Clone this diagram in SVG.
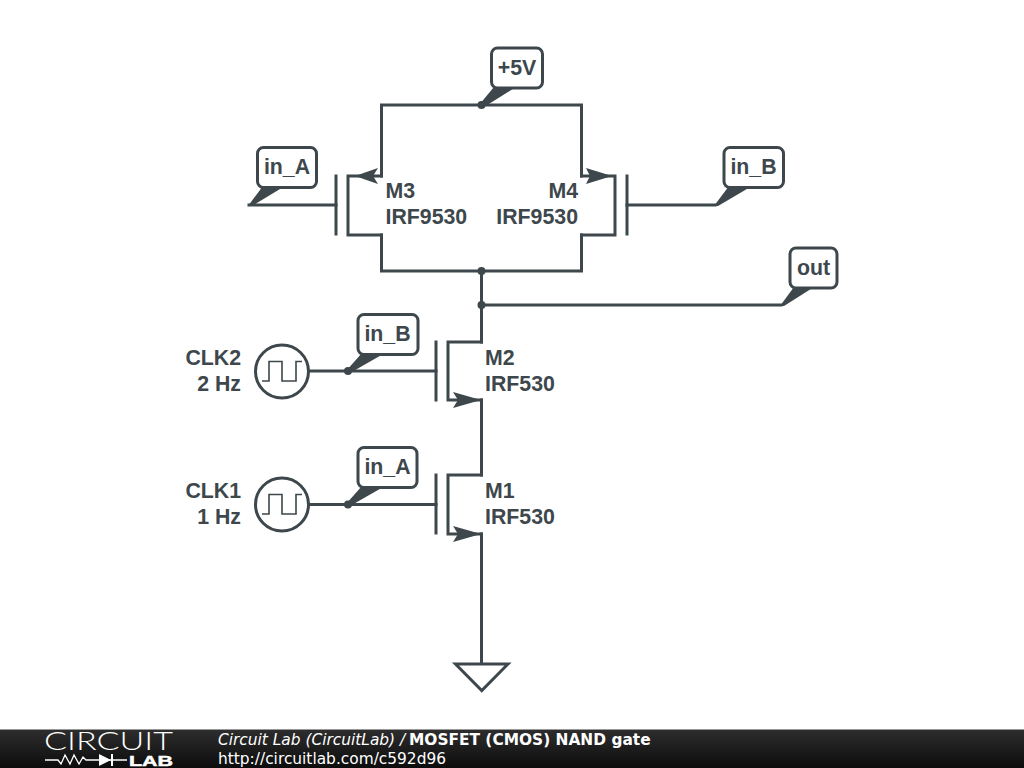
<svg xmlns="http://www.w3.org/2000/svg" width="1024" height="768" viewBox="0 0 1024 768">
<style>
.w{fill:none;stroke:#3d474c;stroke-width:3;stroke-linecap:square;stroke-linejoin:miter}
.t{fill:#3d474c;font-family:"Liberation Sans",Arial,sans-serif;font-weight:bold;font-size:21.3px}
.b{fill:#fff;stroke:#3d474c;stroke-width:3}
.f{fill:#3d474c}
.c{fill:#fff;stroke:#3d474c;stroke-width:3}
.s{fill:none;stroke:#3d474c;stroke-width:1.6}
.e{text-anchor:end}
.m{text-anchor:middle}
.ft{fill:#fff;font-family:"DejaVu Sans",sans-serif;font-size:15.400px}
</style>
<defs>
<linearGradient id="bar" x1="0" y1="0" x2="0" y2="1"><stop offset="0" stop-color="#2e2e2e"/><stop offset="1" stop-color="#0c0c0c"/></linearGradient>
</defs>
<rect width="1024" height="768" fill="#fff"/>
<g id="connectors">
<path class="w" d="M381.500 176V105H581.500V176"/>
<path class="w" d="M381.500 235V271H581.500V235"/>
<path class="w" d="M481.500 271V342"/>
<path class="w" d="M481.500 305H781"/>
<path class="w" d="M481.500 400V475"/>
<path class="w" d="M481.500 534V664"/>
<path class="w" d="M249 205H336"/>
<path class="w" d="M627 205H715"/>
<path class="w" d="M309 371H436"/>
<path class="w" d="M309 504.500H436"/>
<circle class="f" cx="481.500" cy="105" r="4"/>
<circle class="f" cx="481.500" cy="271" r="4"/>
<circle class="f" cx="481.500" cy="305" r="4"/>
<circle class="f" cx="348" cy="371" r="4"/>
<circle class="f" cx="348" cy="504.500" r="4"/>
</g>
<g id="M3">
<path class="w" d="M336 176V234"/><path class="w" d="M348 176H381.500M348 176V235H381.500"/>
<path class="f" d="M355 176L378 168L373 176L378 184Z"/>
<text class="t" x="385.500" y="198">M3</text><text class="t" x="385.500" y="224">IRF9530</text>
</g>
<g id="M4">
<path class="w" d="M627 176V234"/><path class="w" d="M615 176H581.500M615 176V235H581.500"/>
<path class="f" d="M612 176L586 168L590 176L586 184Z"/>
<text class="t e" x="578" y="198">M4</text><text class="t e" x="578" y="224">IRF9530</text>
</g>
<g id="M2">
<path class="w" d="M436 342V400"/><path class="w" d="M481.500 342H448V400H481.500"/>
<path class="f" d="M481 400L453 392L458 400L453 408Z"/>
<text class="t" x="485" y="365">M2</text><text class="t" x="485" y="391">IRF530</text>
</g>
<g id="M1">
<path class="w" d="M436 475V533"/><path class="w" d="M481.500 475H448V534H481.500"/>
<path class="f" d="M481 534L453 526L458 534L453 542Z"/>
<text class="t" x="485" y="498">M1</text><text class="t" x="485" y="524">IRF530</text>
</g>
<g id="CLK2">
<circle class="c" cx="282" cy="371.500" r="26.500"/>
<path class="s" d="M262 381H269V361.500H282V381H296V361.500H302"/>
<text class="t e" x="241" y="365">CLK2</text><text class="t e" x="241" y="391">2 Hz</text>
</g>
<g id="CLK1">
<circle class="c" cx="282" cy="504.500" r="26.500"/>
<path class="s" d="M262 514H269V494.500H282V514H296V494.500H302"/>
<text class="t e" x="241" y="498">CLK1</text><text class="t e" x="241" y="524">1 Hz</text>
</g>
<g id="GND"><path class="c" d="M455.500 664H508L481.750 690.500Z"/></g>
<g id="label-5V">
<path class="f" d="M479 105L494 87H516L484 107Z"/>
<rect class="b" x="491.500" y="48" width="51" height="40" rx="6"/>
<text class="t m" x="517" y="75">+5V</text>
</g>
<g id="label-in_A-top">
<path class="f" d="M248 206L263 186H285L252 206Z"/>
<rect class="b" x="257.500" y="147.500" width="59" height="40" rx="6"/>
<text class="t m" x="287" y="174">in_A</text>
</g>
<g id="label-in_B-top">
<path class="f" d="M714 206L729 186H752L718 206Z"/>
<rect class="b" x="724" y="147.500" width="59.500" height="40" rx="6"/>
<text class="t m" x="753.500" y="174">in_B</text>
</g>
<g id="label-out">
<path class="f" d="M780 306L794 287H814L784 306Z"/>
<rect class="b" x="790" y="248" width="47" height="40" rx="6"/>
<text class="t m" x="813.500" y="275">out</text>
</g>
<g id="label-in_B-low">
<path class="f" d="M346 371L362 353H385L350 373Z"/>
<rect class="b" x="358" y="314.500" width="60" height="40" rx="6"/>
<text class="t m" x="387.500" y="341">in_B</text>
</g>
<g id="label-in_A-low">
<path class="f" d="M346 504L362 486H385L350 506Z"/>
<rect class="b" x="358" y="447.500" width="59" height="40" rx="6"/>
<text class="t m" x="387.500" y="474">in_A</text>
</g>
<g id="footer">
<rect y="729" width="1024" height="39" fill="url(#bar)"/>
<rect y="729" width="1024" height="1" fill="#999"/>
<text x="44" y="750" fill="#fff" font-family="Lato,sans-serif" font-weight="300" font-size="24.500" textLength="129" lengthAdjust="spacingAndGlyphs">CIRCUIT</text>
<path fill="none" stroke="#fff" stroke-width="1.300" d="M45 760H58L61 764L65 755L70 764L74 755L79 764L83 757L86 760H127"/>
<path fill="#fff" d="M99 754L111 760L99 766Z"/><rect x="111" y="754" width="2" height="12" fill="#fff"/>
<text x="129" y="765.500" fill="#fff" stroke="#fff" stroke-width="0.500" font-family="Liberation Sans,sans-serif" font-weight="bold" font-size="15.500" textLength="44" lengthAdjust="spacingAndGlyphs">LAB</text>
<text class="ft" x="218" y="744.500" font-style="italic">Circuit Lab (CircuitLab) /</text>
<text class="ft" x="409" y="744.500" font-weight="bold">MOSFET (CMOS) NAND gate</text>
<text class="ft" x="218" y="763.500">http://circuitlab.com/c592d96</text>
</g>
</svg>
